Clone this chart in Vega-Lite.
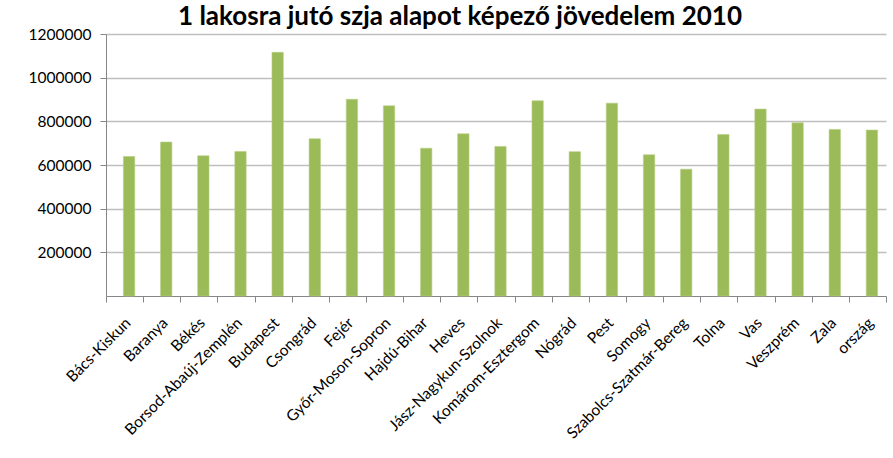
{
  "$schema": "https://vega.github.io/schema/vega-lite/v6.json",
  "width": 780,
  "height": 262,
  "autosize": {"type": "none"},
  "padding": {"left": 106, "top": 34, "right": 7, "bottom": 162},
  "background": "white",
  "title": {
    "text": "1 lakosra jutó szja alapot képező jövedelem 2010",
    "font": "Lato",
    "fontSize": 26,
    "fontWeight": "bold",
    "color": "#000000",
    "anchor": "middle",
    "baseline": "alphabetic",
    "offset": -24,
    "dx": -36
  },
  "data": {
    "values": [
      {"megye": "Bács-Kiskun", "ertek": 639000},
      {"megye": "Baranya", "ertek": 705000},
      {"megye": "Békés", "ertek": 642000},
      {"megye": "Borsod-Abaúj-Zemplén", "ertek": 662000},
      {"megye": "Budapest", "ertek": 1116000},
      {"megye": "Csongrád", "ertek": 720000},
      {"megye": "Fejér", "ertek": 901000},
      {"megye": "Győr-Moson-Sopron", "ertek": 871000},
      {"megye": "Hajdú-Bihar", "ertek": 677000},
      {"megye": "Heves", "ertek": 743000},
      {"megye": "Jász-Nagykun-Szolnok", "ertek": 685000},
      {"megye": "Komárom-Esztergom", "ertek": 894000},
      {"megye": "Nógrád", "ertek": 661000},
      {"megye": "Pest", "ertek": 883000},
      {"megye": "Somogy", "ertek": 647000},
      {"megye": "Szabolcs-Szatmár-Bereg", "ertek": 581000},
      {"megye": "Tolna", "ertek": 740000},
      {"megye": "Vas", "ertek": 856000},
      {"megye": "Veszprém", "ertek": 793000},
      {"megye": "Zala", "ertek": 763000},
      {"megye": "ország", "ertek": 760000}
    ]
  },
  "mark": {"type": "bar", "color": "#9BBB59", "stroke": "#B5CE82", "strokeWidth": 0.6, "width": {"band": 0.305}, "xOffset": 4.5},
  "encoding": {
    "x": {
      "field": "megye",
      "type": "nominal",
      "sort": null,
      "title": null,
      "scale": {"paddingInner": 0, "paddingOuter": 0},
      "axis": {
        "labelAngle": -45,
        "labelAlign": "right",
        "labelBaseline": "middle",
        "labelFont": "Lato",
        "labelFontSize": 15.5,
        "labelColor": "#000000",
        "labelPadding": 18,
        "labelOffset": 3,
        "labelLimit": 300,
        "domainColor": "#868686",
        "tickColor": "#868686",
        "tickSize": 6,
        "tickBand": "extent",
        "grid": false
      }
    },
    "y": {
      "field": "ertek",
      "type": "quantitative",
      "title": null,
      "scale": {"domain": [0, 1200000], "nice": false},
      "axis": {
        "values": [200000, 400000, 600000, 800000, 1000000, 1200000],
        "format": "d",
        "labelFont": "Lato",
        "labelFontSize": 15.5,
        "labelColor": "#000000",
        "labelPadding": 9,
        "domainColor": "#868686",
        "tickColor": "#868686",
        "tickSize": 6,
        "gridColor": "#BFBFBF",
        "gridWidth": 1.3
      }
    }
  },
  "config": {"view": {"stroke": null}}
}
